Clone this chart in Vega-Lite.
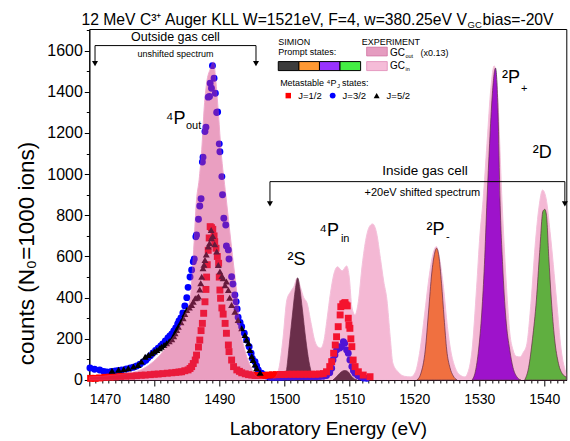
{
"$schema": "https://vega.github.io/schema/vega-lite/v6.json",
"width": 477, "height": 351,
"autosize": {"type": "none"},
"padding": {"left": 89.3, "top": 29, "right": 4, "bottom": 61},
"background": "white",
"config": {"font": "Liberation Sans", "view": {"stroke": "black", "strokeWidth": 1},
  "axis": {"domainColor": "black", "tickColor": "black", "labelColor": "black", "titleColor": "black", "grid": false, "titleFontWeight": "normal", "labelFont": "Liberation Sans", "titleFont": "Liberation Sans"}},
"datasets": {
"gcout": [{"E":1470,"c":15},{"E":1472,"c":18},{"E":1474,"c":24},{"E":1476,"c":33},{"E":1478,"c":50},{"E":1479.5,"c":80},{"E":1481,"c":125},{"E":1482.5,"c":190},{"E":1483.7,"c":245},{"E":1484.6,"c":310},{"E":1485.5,"c":390},{"E":1486,"c":600},{"E":1486.5,"c":875},{"E":1486.9,"c":972},{"E":1487.3,"c":1118},{"E":1487.7,"c":1330},{"E":1488.06,"c":1443},{"E":1488.6,"c":1510},{"E":1489.1,"c":1545},{"E":1489.5,"c":1443},{"E":1489.9,"c":1280},{"E":1490.26,"c":1118},{"E":1491.0,"c":900},{"E":1491.9,"c":640},{"E":1492.8,"c":389},{"E":1493.2,"c":250},{"E":1493.8,"c":160},{"E":1494.4,"c":97},{"E":1495,"c":55},{"E":1495.5,"c":24},{"E":1496.3,"c":8},{"E":1497.3,"c":0}],
"gcin": [{"E":1497.5,"c":0},{"E":1498.5,"c":10},{"E":1499.2,"c":60},{"E":1499.8,"c":200},{"E":1500.4,"c":389},{"E":1501,"c":430},{"E":1501.5,"c":455},{"E":1502,"c":496},{"E":1502.5,"c":450},{"E":1503,"c":400},{"E":1503.5,"c":374},{"E":1504.1,"c":280},{"E":1504.7,"c":190},{"E":1505.2,"c":160},{"E":1505.6,"c":155},{"E":1506.1,"c":190},{"E":1506.6,"c":300},{"E":1507.1,"c":420},{"E":1507.6,"c":510},{"E":1508.2,"c":550},{"E":1508.9,"c":530},{"E":1509.6,"c":554},{"E":1510,"c":500},{"E":1510.4,"c":355},{"E":1510.9,"c":316},{"E":1511.4,"c":380},{"E":1512,"c":560},{"E":1512.6,"c":690},{"E":1513.1,"c":745},{"E":1513.6,"c":758},{"E":1514.2,"c":715},{"E":1514.8,"c":590},{"E":1515.3,"c":480},{"E":1515.8,"c":389},{"E":1516.3,"c":210},{"E":1516.7,"c":83},{"E":1517.5,"c":40},{"E":1518.5,"c":18},{"E":1519.5,"c":15},{"E":1520.2,"c":40},{"E":1520.9,"c":146},{"E":1521.6,"c":320},{"E":1522.2,"c":480},{"E":1522.8,"c":600},{"E":1523.4,"c":648},{"E":1523.9,"c":590},{"E":1524.5,"c":450},{"E":1525.1,"c":260},{"E":1525.6,"c":146},{"E":1526.3,"c":60},{"E":1527,"c":25},{"E":1527.8,"c":15},{"E":1528.3,"c":40},{"E":1528.9,"c":146},{"E":1529.6,"c":450},{"E":1530.1,"c":700},{"E":1530.6,"c":875},{"E":1531.2,"c":1150},{"E":1531.8,"c":1420},{"E":1532.3,"c":1526},{"E":1532.8,"c":1400},{"E":1533.5,"c":875},{"E":1534.2,"c":450},{"E":1534.7,"c":230},{"E":1535.2,"c":146},{"E":1535.7,"c":115},{"E":1536.3,"c":112},{"E":1536.8,"c":135},{"E":1537.3,"c":170},{"E":1538,"c":389},{"E":1538.6,"c":650},{"E":1539.2,"c":840},{"E":1539.75,"c":923},{"E":1540.3,"c":880},{"E":1540.9,"c":720},{"E":1541.9,"c":389},{"E":1542.6,"c":150},{"E":1543.4,"c":30}],
"simion": [
{"E":1499.8,"c":0,"s":"2S"},{"E":1500.3,"c":40,"s":"2S"},{"E":1500.8,"c":180,"s":"2S"},{"E":1501.3,"c":330,"s":"2S"},{"E":1501.7,"c":440,"s":"2S"},{"E":1502.06,"c":496,"s":"2S"},{"E":1502.4,"c":445,"s":"2S"},{"E":1502.8,"c":340,"s":"2S"},{"E":1503.3,"c":200,"s":"2S"},{"E":1503.8,"c":90,"s":"2S"},{"E":1504.3,"c":25,"s":"2S"},{"E":1504.8,"c":0,"s":"2S"},
{"E":1507.5,"c":0,"s":"4P"},{"E":1508,"c":15,"s":"4P"},{"E":1508.5,"c":32,"s":"4P"},{"E":1509,"c":44,"s":"4P"},{"E":1509.4,"c":46,"s":"4P"},{"E":1509.9,"c":38,"s":"4P"},{"E":1510.3,"c":20,"s":"4P"},{"E":1510.8,"c":5,"s":"4P"},{"E":1511.2,"c":0,"s":"4P"},
{"E":1520.4,"c":0,"s":"2P-"},{"E":1521,"c":30,"s":"2P-"},{"E":1521.7,"c":146,"s":"2P-"},{"E":1522.2,"c":330,"s":"2P-"},{"E":1522.7,"c":520,"s":"2P-"},{"E":1523.1,"c":610,"s":"2P-"},{"E":1523.45,"c":640,"s":"2P-"},{"E":1523.8,"c":600,"s":"2P-"},{"E":1524.2,"c":470,"s":"2P-"},{"E":1524.6,"c":300,"s":"2P-"},{"E":1525,"c":146,"s":"2P-"},{"E":1525.5,"c":60,"s":"2P-"},{"E":1526,"c":20,"s":"2P-"},{"E":1526.6,"c":0,"s":"2P-"},
{"E":1528.9,"c":0,"s":"2P+"},{"E":1529.4,"c":40,"s":"2P+"},{"E":1529.9,"c":146,"s":"2P+"},{"E":1530.4,"c":330,"s":"2P+"},{"E":1530.8,"c":560,"s":"2P+"},{"E":1531.2,"c":875,"s":"2P+"},{"E":1531.6,"c":1150,"s":"2P+"},{"E":1532,"c":1380,"s":"2P+"},{"E":1532.5,"c":1515,"s":"2P+"},{"E":1532.9,"c":1300,"s":"2P+"},{"E":1533.2,"c":875,"s":"2P+"},{"E":1533.6,"c":560,"s":"2P+"},{"E":1534.1,"c":300,"s":"2P+"},{"E":1534.7,"c":146,"s":"2P+"},{"E":1535.2,"c":60,"s":"2P+"},{"E":1535.8,"c":15,"s":"2P+"},{"E":1536.4,"c":0,"s":"2P+"},
{"E":1537,"c":0,"s":"2D"},{"E":1537.6,"c":60,"s":"2D"},{"E":1538.2,"c":200,"s":"2D"},{"E":1538.8,"c":389,"s":"2D"},{"E":1539.3,"c":620,"s":"2D"},{"E":1539.8,"c":820,"s":"2D"},{"E":1540.1,"c":829,"s":"2D"},{"E":1540.35,"c":800,"s":"2D"},{"E":1540.7,"c":600,"s":"2D"},{"E":1541.1,"c":389,"s":"2D"},{"E":1541.6,"c":200,"s":"2D"},{"E":1542.2,"c":80,"s":"2D"},{"E":1542.8,"c":30,"s":"2D"},{"E":1543.4,"c":15,"s":"2D"}],
"points": [
{"E":1470.1,"c":58,"J":"J=3/2"},{"E":1470.8,"c":52,"J":"J=3/2"},{"E":1471.6,"c":49,"J":"J=3/2"},{"E":1472.2,"c":42,"J":"J=3/2"},{"E":1472.7,"c":39,"J":"J=3/2"},{"E":1473.4,"c":41,"J":"J=3/2"},{"E":1474,"c":44,"J":"J=3/2"},{"E":1474.5,"c":46,"J":"J=3/2"},{"E":1475,"c":49,"J":"J=3/2"},{"E":1475.7,"c":53,"J":"J=3/2"},{"E":1476.3,"c":58,"J":"J=3/2"},{"E":1476.8,"c":62,"J":"J=3/2"},{"E":1477.3,"c":68,"J":"J=3/2"},{"E":1477.8,"c":77,"J":"J=3/2"},{"E":1478.3,"c":87,"J":"J=3/2"},{"E":1478.7,"c":96,"J":"J=3/2"},{"E":1479,"c":107,"J":"J=3/2"},{"E":1479.4,"c":118,"J":"J=3/2"},{"E":1479.8,"c":131,"J":"J=3/2"},{"E":1480.2,"c":143,"J":"J=3/2"},{"E":1480.6,"c":155,"J":"J=3/2"},{"E":1481,"c":165,"J":"J=3/2"},{"E":1481.3,"c":175,"J":"J=3/2"},{"E":1481.7,"c":190,"J":"J=3/2"},{"E":1482.1,"c":204,"J":"J=3/2"},{"E":1482.4,"c":214,"J":"J=3/2"},{"E":1482.7,"c":224,"J":"J=3/2"},{"E":1483,"c":238,"J":"J=3/2"},{"E":1483.3,"c":253,"J":"J=3/2"},{"E":1483.6,"c":272,"J":"J=3/2"},{"E":1483.8,"c":287,"J":"J=3/2"},{"E":1484.1,"c":301,"J":"J=3/2"},{"E":1484.4,"c":326,"J":"J=3/2"},{"E":1484.7,"c":360,"J":"J=3/2"},{"E":1485,"c":400,"J":"J=3/2"},{"E":1485.2,"c":450,"J":"J=3/2"},{"E":1485.5,"c":500,"J":"J=3/2"},{"E":1485.75,"c":534,"J":"J=3/2"},{"E":1486,"c":575,"J":"J=3/2"},{"E":1486.15,"c":588,"J":"J=3/2"},{"E":1486.4,"c":696,"J":"J=3/2"},{"E":1486.5,"c":704,"J":"J=3/2"},{"E":1486.8,"c":781,"J":"J=3/2"},{"E":1487,"c":845,"J":"J=3/2"},{"E":1487.2,"c":880,"J":"J=3/2"},{"E":1487.4,"c":1059,"J":"J=3/2"},{"E":1487.5,"c":1082,"J":"J=3/2"},{"E":1487.8,"c":1207,"J":"J=3/2"},{"E":1487.95,"c":1228,"J":"J=3/2"},{"E":1488.3,"c":1374,"J":"J=3/2"},{"E":1488.5,"c":1377,"J":"J=3/2"},{"E":1488.6,"c":1442,"J":"J=3/2"},{"E":1488.8,"c":1417,"J":"J=3/2"},{"E":1488.95,"c":1527,"J":"J=3/2"},{"E":1489.2,"c":1466,"J":"J=3/2"},{"E":1489.4,"c":1393,"J":"J=3/2"},{"E":1489.6,"c":1299,"J":"J=3/2"},{"E":1489.75,"c":1302,"J":"J=3/2"},{"E":1490,"c":1147,"J":"J=3/2"},{"E":1490.1,"c":1109,"J":"J=3/2"},{"E":1490.4,"c":988,"J":"J=3/2"},{"E":1490.5,"c":900,"J":"J=3/2"},{"E":1490.7,"c":786,"J":"J=3/2"},{"E":1491,"c":753,"J":"J=3/2"},{"E":1491.1,"c":651,"J":"J=3/2"},{"E":1491.4,"c":632,"J":"J=3/2"},{"E":1491.5,"c":588,"J":"J=3/2"},{"E":1491.9,"c":502,"J":"J=3/2"},{"E":1492.1,"c":466,"J":"J=3/2"},{"E":1492.4,"c":413,"J":"J=3/2"},{"E":1492.6,"c":380,"J":"J=3/2"},{"E":1492.75,"c":345,"J":"J=3/2"},{"E":1492.9,"c":305,"J":"J=3/2"},{"E":1493.2,"c":280,"J":"J=3/2"},{"E":1493.45,"c":259,"J":"J=3/2"},{"E":1493.85,"c":227,"J":"J=3/2"},{"E":1494.2,"c":194,"J":"J=3/2"},{"E":1494.6,"c":162,"J":"J=3/2"},{"E":1494.9,"c":130,"J":"J=3/2"},{"E":1495.1,"c":105,"J":"J=3/2"},{"E":1495.5,"c":89,"J":"J=3/2"},{"E":1495.75,"c":68,"J":"J=3/2"},{"E":1496,"c":49,"J":"J=3/2"},{"E":1496.5,"c":33,"J":"J=3/2"},{"E":1496.9,"c":25,"J":"J=3/2"},{"E":1497.3,"c":19,"J":"J=3/2"},{"E":1497.7,"c":15,"J":"J=3/2"},{"E":1498.05,"c":13,"J":"J=3/2"},{"E":1498.4,"c":13,"J":"J=3/2"},{"E":1498.8,"c":13,"J":"J=3/2"},{"E":1499.2,"c":13,"J":"J=3/2"},{"E":1499.6,"c":13,"J":"J=3/2"},{"E":1500,"c":14,"J":"J=3/2"},{"E":1500.5,"c":15,"J":"J=3/2"},{"E":1501,"c":15,"J":"J=3/2"},{"E":1501.5,"c":15,"J":"J=3/2"},{"E":1502,"c":16,"J":"J=3/2"},{"E":1502.5,"c":16,"J":"J=3/2"},{"E":1503,"c":16,"J":"J=3/2"},{"E":1503.5,"c":16,"J":"J=3/2"},{"E":1504,"c":16,"J":"J=3/2"},{"E":1504.5,"c":16,"J":"J=3/2"},{"E":1505,"c":16,"J":"J=3/2"},{"E":1505.5,"c":17,"J":"J=3/2"},{"E":1506,"c":18,"J":"J=3/2"},{"E":1506.5,"c":22,"J":"J=3/2"},{"E":1507,"c":35,"J":"J=3/2"},{"E":1507.3,"c":57,"J":"J=3/2"},{"E":1507.5,"c":97,"J":"J=3/2"},{"E":1507.8,"c":121,"J":"J=3/2"},{"E":1508.05,"c":146,"J":"J=3/2"},{"E":1508.3,"c":162,"J":"J=3/2"},{"E":1508.55,"c":155,"J":"J=3/2"},{"E":1508.8,"c":162,"J":"J=3/2"},{"E":1509.1,"c":186,"J":"J=3/2"},{"E":1509.3,"c":178,"J":"J=3/2"},{"E":1509.6,"c":146,"J":"J=3/2"},{"E":1509.85,"c":130,"J":"J=3/2"},{"E":1510.1,"c":97,"J":"J=3/2"},{"E":1510.4,"c":65,"J":"J=3/2"},{"E":1510.65,"c":45,"J":"J=3/2"},{"E":1510.9,"c":33,"J":"J=3/2"},{"E":1511.3,"c":22,"J":"J=3/2"},{"E":1511.65,"c":16,"J":"J=3/2"},{"E":1512.2,"c":10,"J":"J=3/2"},{"E":1512.7,"c":8,"J":"J=3/2"},
{"E":1470.2,"c":8,"J":"J=1/2"},{"E":1470.9,"c":8,"J":"J=1/2"},{"E":1471.6,"c":10,"J":"J=1/2"},{"E":1472.4,"c":13,"J":"J=1/2"},{"E":1473.2,"c":14,"J":"J=1/2"},{"E":1474,"c":15,"J":"J=1/2"},{"E":1474.8,"c":17,"J":"J=1/2"},{"E":1475.6,"c":18,"J":"J=1/2"},{"E":1476.5,"c":19,"J":"J=1/2"},{"E":1477.3,"c":21,"J":"J=1/2"},{"E":1478,"c":23,"J":"J=1/2"},{"E":1478.6,"c":24,"J":"J=1/2"},{"E":1479.4,"c":26,"J":"J=1/2"},{"E":1480,"c":28,"J":"J=1/2"},{"E":1480.6,"c":29,"J":"J=1/2"},{"E":1481.3,"c":31,"J":"J=1/2"},{"E":1482,"c":33,"J":"J=1/2"},{"E":1482.7,"c":35,"J":"J=1/2"},{"E":1483.3,"c":37,"J":"J=1/2"},{"E":1483.8,"c":39,"J":"J=1/2"},{"E":1484.2,"c":40,"J":"J=1/2"},{"E":1484.7,"c":45,"J":"J=1/2"},{"E":1485.2,"c":49,"J":"J=1/2"},{"E":1485.5,"c":56,"J":"J=1/2"},{"E":1485.75,"c":65,"J":"J=1/2"},{"E":1486,"c":80,"J":"J=1/2"},{"E":1486.3,"c":97,"J":"J=1/2"},{"E":1486.5,"c":121,"J":"J=1/2"},{"E":1486.8,"c":160,"J":"J=1/2"},{"E":1487,"c":194,"J":"J=1/2"},{"E":1487.2,"c":240,"J":"J=1/2"},{"E":1487.4,"c":275,"J":"J=1/2"},{"E":1487.6,"c":324,"J":"J=1/2"},{"E":1487.8,"c":380,"J":"J=1/2"},{"E":1487.95,"c":440,"J":"J=1/2"},{"E":1488.05,"c":500,"J":"J=1/2"},{"E":1488.15,"c":560,"J":"J=1/2"},{"E":1488.3,"c":630,"J":"J=1/2"},{"E":1488.45,"c":690,"J":"J=1/2"},{"E":1488.6,"c":745,"J":"J=1/2"},{"E":1488.8,"c":740,"J":"J=1/2"},{"E":1489,"c":732,"J":"J=1/2"},{"E":1489.2,"c":700,"J":"J=1/2"},{"E":1489.3,"c":672,"J":"J=1/2"},{"E":1489.5,"c":640,"J":"J=1/2"},{"E":1489.7,"c":600,"J":"J=1/2"},{"E":1489.9,"c":567,"J":"J=1/2"},{"E":1490,"c":500,"J":"J=1/2"},{"E":1490.1,"c":437,"J":"J=1/2"},{"E":1490.2,"c":397,"J":"J=1/2"},{"E":1490.4,"c":350,"J":"J=1/2"},{"E":1490.6,"c":320,"J":"J=1/2"},{"E":1490.9,"c":275,"J":"J=1/2"},{"E":1491.1,"c":227,"J":"J=1/2"},{"E":1491.4,"c":170,"J":"J=1/2"},{"E":1491.5,"c":138,"J":"J=1/2"},{"E":1491.9,"c":97,"J":"J=1/2"},{"E":1492.2,"c":65,"J":"J=1/2"},{"E":1492.7,"c":49,"J":"J=1/2"},{"E":1493.1,"c":42,"J":"J=1/2"},{"E":1493.45,"c":35,"J":"J=1/2"},{"E":1494,"c":30,"J":"J=1/2"},{"E":1494.5,"c":26,"J":"J=1/2"},{"E":1495,"c":24,"J":"J=1/2"},{"E":1495.5,"c":22,"J":"J=1/2"},{"E":1496,"c":22,"J":"J=1/2"},{"E":1496.5,"c":22,"J":"J=1/2"},{"E":1497,"c":22,"J":"J=1/2"},{"E":1497.6,"c":24,"J":"J=1/2"},{"E":1498.2,"c":25,"J":"J=1/2"},{"E":1498.8,"c":26,"J":"J=1/2"},{"E":1499.4,"c":27,"J":"J=1/2"},{"E":1500,"c":27,"J":"J=1/2"},{"E":1500.6,"c":28,"J":"J=1/2"},{"E":1501.2,"c":28,"J":"J=1/2"},{"E":1501.8,"c":28,"J":"J=1/2"},{"E":1502.4,"c":28,"J":"J=1/2"},{"E":1503,"c":28,"J":"J=1/2"},{"E":1503.6,"c":28,"J":"J=1/2"},{"E":1504.2,"c":28,"J":"J=1/2"},{"E":1504.8,"c":28,"J":"J=1/2"},{"E":1505.4,"c":29,"J":"J=1/2"},{"E":1506,"c":31,"J":"J=1/2"},{"E":1506.5,"c":40,"J":"J=1/2"},{"E":1507,"c":65,"J":"J=1/2"},{"E":1507.3,"c":89,"J":"J=1/2"},{"E":1507.6,"c":130,"J":"J=1/2"},{"E":1507.85,"c":170,"J":"J=1/2"},{"E":1508.05,"c":210,"J":"J=1/2"},{"E":1508.3,"c":259,"J":"J=1/2"},{"E":1508.6,"c":316,"J":"J=1/2"},{"E":1508.7,"c":356,"J":"J=1/2"},{"E":1509,"c":369,"J":"J=1/2"},{"E":1509.2,"c":372,"J":"J=1/2"},{"E":1509.35,"c":376,"J":"J=1/2"},{"E":1509.5,"c":365,"J":"J=1/2"},{"E":1509.7,"c":360,"J":"J=1/2"},{"E":1509.85,"c":300,"J":"J=1/2"},{"E":1509.95,"c":267,"J":"J=1/2"},{"E":1510.1,"c":251,"J":"J=1/2"},{"E":1510.25,"c":200,"J":"J=1/2"},{"E":1510.4,"c":162,"J":"J=1/2"},{"E":1510.6,"c":97,"J":"J=1/2"},{"E":1510.9,"c":65,"J":"J=1/2"},{"E":1511.4,"c":40,"J":"J=1/2"},{"E":1512.15,"c":24,"J":"J=1/2"},{"E":1513.2,"c":16,"J":"J=1/2"},
{"E":1473.5,"c":45,"J":"J=5/2"},{"E":1474.5,"c":50,"J":"J=5/2"},{"E":1475.3,"c":52,"J":"J=5/2"},{"E":1476,"c":57,"J":"J=5/2"},{"E":1476.8,"c":65,"J":"J=5/2"},{"E":1477.5,"c":73,"J":"J=5/2"},{"E":1478,"c":90,"J":"J=5/2"},{"E":1478.6,"c":113,"J":"J=5/2"},{"E":1479.1,"c":122,"J":"J=5/2"},{"E":1479.6,"c":130,"J":"J=5/2"},{"E":1480,"c":138,"J":"J=5/2"},{"E":1480.4,"c":146,"J":"J=5/2"},{"E":1480.8,"c":154,"J":"J=5/2"},{"E":1481.1,"c":162,"J":"J=5/2"},{"E":1481.5,"c":170,"J":"J=5/2"},{"E":1481.9,"c":178,"J":"J=5/2"},{"E":1482.3,"c":188,"J":"J=5/2"},{"E":1482.7,"c":198,"J":"J=5/2"},{"E":1483,"c":212,"J":"J=5/2"},{"E":1483.2,"c":227,"J":"J=5/2"},{"E":1483.45,"c":243,"J":"J=5/2"},{"E":1483.7,"c":259,"J":"J=5/2"},{"E":1484.1,"c":280,"J":"J=5/2"},{"E":1484.45,"c":300,"J":"J=5/2"},{"E":1484.7,"c":320,"J":"J=5/2"},{"E":1485,"c":340,"J":"J=5/2"},{"E":1485.4,"c":352,"J":"J=5/2"},{"E":1485.75,"c":364,"J":"J=5/2"},{"E":1486,"c":380,"J":"J=5/2"},{"E":1486.3,"c":397,"J":"J=5/2"},{"E":1486.6,"c":400,"J":"J=5/2"},{"E":1486.8,"c":405,"J":"J=5/2"},{"E":1487,"c":440,"J":"J=5/2"},{"E":1487.15,"c":470,"J":"J=5/2"},{"E":1487.3,"c":502,"J":"J=5/2"},{"E":1487.5,"c":543,"J":"J=5/2"},{"E":1487.65,"c":560,"J":"J=5/2"},{"E":1487.8,"c":583,"J":"J=5/2"},{"E":1488,"c":610,"J":"J=5/2"},{"E":1488.3,"c":648,"J":"J=5/2"},{"E":1488.5,"c":664,"J":"J=5/2"},{"E":1488.75,"c":729,"J":"J=5/2"},{"E":1488.8,"c":689,"J":"J=5/2"},{"E":1489,"c":700,"J":"J=5/2"},{"E":1489.3,"c":660,"J":"J=5/2"},{"E":1489.6,"c":624,"J":"J=5/2"},{"E":1489.85,"c":559,"J":"J=5/2"},{"E":1490.1,"c":527,"J":"J=5/2"},{"E":1490.4,"c":505,"J":"J=5/2"},{"E":1490.6,"c":494,"J":"J=5/2"},{"E":1490.9,"c":460,"J":"J=5/2"},{"E":1491.1,"c":478,"J":"J=5/2"},{"E":1491.4,"c":437,"J":"J=5/2"},{"E":1491.6,"c":400,"J":"J=5/2"},{"E":1491.9,"c":364,"J":"J=5/2"},{"E":1492.4,"c":332,"J":"J=5/2"},{"E":1492.9,"c":292,"J":"J=5/2"},{"E":1493.45,"c":251,"J":"J=5/2"},{"E":1493.95,"c":219,"J":"J=5/2"},{"E":1494.2,"c":195,"J":"J=5/2"},{"E":1494.5,"c":178,"J":"J=5/2"},{"E":1494.7,"c":146,"J":"J=5/2"},{"E":1495,"c":115,"J":"J=5/2"},{"E":1495.2,"c":97,"J":"J=5/2"},{"E":1495.5,"c":75,"J":"J=5/2"},{"E":1495.75,"c":57,"J":"J=5/2"},{"E":1496.3,"c":35,"J":"J=5/2"}]
},
"layer": [
{"data": {"values": [{}]},
 "resolve": {"scale": {"color": "independent", "shape": "independent"}},
 "layer": [
 {"data": {"name": "simion"}, "mark": {"type": "area", "interpolate": "monotone", "stroke": "#222222", "strokeWidth": 0.7},
  "encoding": {"x": {"field": "E", "type": "quantitative", "scale": {"domain": [1470, 1543.4], "nice": false, "zero": false}, "axis": {"values": [1470,1480,1490,1500,1510,1520,1530,1540], "format": "d", "labelFontSize": 14, "tickSize": 6, "labelPadding": 7, "title": "Laboratory Energy (eV)", "titleFontSize": 19, "titleX": 238.5, "titleY": 55, "titleBaseline": "alphabetic", "titleAlign": "center", "orient": "bottom"}},
   "y": {"field": "c", "type": "quantitative", "stack": null, "scale": {"domain": [0, 1705], "nice": false, "zero": false}, "axis": {"values": [0,200,400,600,800,1000,1200,1400,1600], "format": "d", "labelFontSize": 16, "tickSize": 5, "labelPadding": 2, "title": "counts (N₀=1000 ions)", "titleFontSize": 22.5, "titleAngle": -90, "titleX": -63, "titleY": 224, "titleAlign": "center", "titleBaseline": "middle", "orient": "left"}},
   "color": {"field": "s", "type": "nominal", "scale": {"domain": ["2S","4P","2P-","2P+","2D"], "range": ["#2a2a2a","#2a2a2a","#f88f1a","#7a00f0","#1af11a"]}, "legend": null}}},
 {"data": {"name": "points"}, "mark": {"type": "point", "filled": true, "opacity": 1, "size": 48},
  "encoding": {"x": {"field": "E", "type": "quantitative"}, "y": {"field": "c", "type": "quantitative"},
   "color": {"field": "J", "type": "nominal", "scale": {"domain": ["J=1/2","J=3/2","J=5/2"], "range": ["#ff0000","#0000ff","#000000"]}, "legend": null},
   "shape": {"field": "J", "type": "nominal", "scale": {"domain": ["J=1/2","J=3/2","J=5/2"], "range": ["square","circle","triangle-up"]}, "legend": null}}},
 {"data": {"name": "gcout"}, "mark": {"type": "area", "interpolate": "monotone", "color": "#d4387e", "opacity": 0.48, "stroke": "#e0509a", "strokeWidth": 1},
  "encoding": {"x": {"field": "E", "type": "quantitative"}, "y": {"field": "c", "type": "quantitative"}}},
 {"data": {"name": "gcin"}, "mark": {"type": "area", "interpolate": "monotone", "color": "#e23787", "opacity": 0.35, "stroke": "#e0509a", "strokeWidth": 1},
  "encoding": {"x": {"field": "E", "type": "quantitative"}, "y": {"field": "c", "type": "quantitative"}}},

 {"mark": {"type": "rule", "color": "black", "strokeWidth": 1}, "encoding": {"x": {"datum": 1470.88}, "x2": {"datum": 1495.65}, "y": {"datum": 1624.4}}},
 {"mark": {"type": "rule", "color": "black", "strokeWidth": 1}, "encoding": {"x": {"datum": 1470.88}, "y": {"datum": 1624.4}, "y2": {"datum": 1545}}},
 {"mark": {"type": "rule", "color": "black", "strokeWidth": 1}, "encoding": {"x": {"datum": 1495.65}, "y": {"datum": 1624.4}, "y2": {"datum": 1545}}},
 {"mark": {"type": "point", "shape": "triangle-down", "filled": true, "color": "black", "size": 36, "opacity": 1}, "encoding": {"x": {"datum": 1470.88}, "y": {"datum": 1537}}},
 {"mark": {"type": "point", "shape": "triangle-down", "filled": true, "color": "black", "size": 36, "opacity": 1}, "encoding": {"x": {"datum": 1495.65}, "y": {"datum": 1537}}},
 {"mark": {"type": "rule", "color": "black", "strokeWidth": 1}, "encoding": {"x": {"datum": 1497.8}, "x2": {"datum": 1543.18}, "y": {"datum": 963.6}}},
 {"mark": {"type": "rule", "color": "black", "strokeWidth": 1}, "encoding": {"x": {"datum": 1497.8}, "y": {"datum": 963.6}, "y2": {"datum": 865}}},
 {"mark": {"type": "rule", "color": "black", "strokeWidth": 1}, "encoding": {"x": {"datum": 1543.18}, "y": {"datum": 963.6}, "y2": {"datum": 865}}},
 {"mark": {"type": "point", "shape": "triangle-down", "filled": true, "color": "black", "size": 36, "opacity": 1}, "encoding": {"x": {"datum": 1497.8}, "y": {"datum": 856}}},
 {"mark": {"type": "point", "shape": "triangle-down", "filled": true, "color": "black", "size": 36, "opacity": 1}, "encoding": {"x": {"datum": 1543.18}, "y": {"datum": 856}}},

 {"mark": {"type": "text", "text": "Outside gas cell", "fontSize": 12.5, "align": "center", "baseline": "alphabetic", "color": "black"}, "encoding": {"x": {"datum": 1483.26}, "y": {"datum": 1644.8}}},
 {"mark": {"type": "text", "text": "unshifted spectrum", "fontSize": 9, "align": "center", "baseline": "alphabetic", "color": "black"}, "encoding": {"x": {"datum": 1483.26}, "y": {"datum": 1569.5}}},
 {"mark": {"type": "text", "text": "Inside gas cell", "fontSize": 13.5, "align": "center", "baseline": "alphabetic", "color": "black"}, "encoding": {"x": {"datum": 1521.65}, "y": {"datum": 996.1}}},
 {"mark": {"type": "text", "text": "+20eV shifted spectrum", "fontSize": 11, "align": "center", "baseline": "alphabetic", "color": "black"}, "encoding": {"x": {"datum": 1521.26}, "y": {"datum": 894.1}}},

 {"mark": {"type": "text", "text": "⁴P", "fontSize": 18, "align": "right", "baseline": "alphabetic", "color": "black"}, "encoding": {"x": {"datum": 1484.8}, "y": {"datum": 1243.9}}},
 {"mark": {"type": "text", "text": "out", "fontSize": 11, "align": "left", "baseline": "alphabetic", "color": "black"}, "encoding": {"x": {"datum": 1484.88}, "y": {"datum": 1219.6}}},
 {"mark": {"type": "text", "text": "²S", "fontSize": 18, "align": "right", "baseline": "alphabetic", "color": "black"}, "encoding": {"x": {"datum": 1503.26}, "y": {"datum": 558.8}}},
 {"mark": {"type": "text", "text": "⁴P", "fontSize": 18, "align": "right", "baseline": "alphabetic", "color": "black"}, "encoding": {"x": {"datum": 1508.42}, "y": {"datum": 699.7}}},
 {"mark": {"type": "text", "text": "in", "fontSize": 11, "align": "left", "baseline": "alphabetic", "color": "black"}, "encoding": {"x": {"datum": 1508.72}, "y": {"datum": 672}}},
 {"mark": {"type": "text", "text": "²P", "fontSize": 18, "align": "right", "baseline": "alphabetic", "color": "black"}, "encoding": {"x": {"datum": 1524.65}, "y": {"datum": 704.6}}},
 {"mark": {"type": "text", "text": "-", "fontSize": 11, "align": "left", "baseline": "alphabetic", "color": "black"}, "encoding": {"x": {"datum": 1524.88}, "y": {"datum": 680.3}}},
 {"mark": {"type": "text", "text": "²P", "fontSize": 18, "align": "right", "baseline": "alphabetic", "color": "black"}, "encoding": {"x": {"datum": 1536.26}, "y": {"datum": 1441.7}}},
 {"mark": {"type": "text", "text": "+", "fontSize": 11, "align": "left", "baseline": "alphabetic", "color": "black"}, "encoding": {"x": {"datum": 1536.42}, "y": {"datum": 1399.4}}},
 {"mark": {"type": "text", "text": "²D", "fontSize": 18, "align": "right", "baseline": "alphabetic", "color": "black"}, "encoding": {"x": {"datum": 1541.15}, "y": {"datum": 1077.3}}},

 {"mark": {"type": "text", "text": "SIMION", "fontSize": 9, "align": "left", "baseline": "alphabetic", "color": "black"}, "encoding": {"x": {"datum": 1499.08}, "y": {"datum": 1627.8}}},
 {"mark": {"type": "text", "text": "Prompt states:", "fontSize": 9, "align": "left", "baseline": "alphabetic", "color": "black"}, "encoding": {"x": {"datum": 1499.08}, "y": {"datum": 1579}}},
 {"mark": {"type": "rect", "fill": "#3c3c3c", "stroke": "black", "strokeWidth": 1}, "encoding": {"x": {"datum": 1499.08}, "x2": {"datum": 1502.25}, "y": {"datum": 1503}, "y2": {"datum": 1546.7}}},
 {"mark": {"type": "rect", "fill": "#ff9933", "stroke": "black", "strokeWidth": 1}, "encoding": {"x": {"datum": 1502.25}, "x2": {"datum": 1505.42}, "y": {"datum": 1503}, "y2": {"datum": 1546.7}}},
 {"mark": {"type": "rect", "fill": "#9933ff", "stroke": "black", "strokeWidth": 1}, "encoding": {"x": {"datum": 1505.42}, "x2": {"datum": 1508.58}, "y": {"datum": 1503}, "y2": {"datum": 1546.7}}},
 {"mark": {"type": "rect", "fill": "#44ee44", "stroke": "black", "strokeWidth": 1}, "encoding": {"x": {"datum": 1508.58}, "x2": {"datum": 1511.75}, "y": {"datum": 1503}, "y2": {"datum": 1546.7}}},
 {"mark": {"type": "text", "text": "EXPERIMENT", "fontSize": 9, "align": "left", "baseline": "alphabetic", "color": "black"}, "encoding": {"x": {"datum": 1511.91}, "y": {"datum": 1627.8}}},
 {"mark": {"type": "rect", "fill": "#e59cc0", "stroke": "#d070a0", "strokeWidth": 0.8}, "encoding": {"x": {"datum": 1512.68}, "x2": {"datum": 1515.85}, "y": {"datum": 1574.3}, "y2": {"datum": 1616.6}}},
 {"mark": {"type": "rect", "fill": "#f5bcd8", "stroke": "#e08ab8", "strokeWidth": 0.8}, "encoding": {"x": {"datum": 1512.68}, "x2": {"datum": 1515.85}, "y": {"datum": 1503}, "y2": {"datum": 1546.7}}},
 {"mark": {"type": "text", "text": "GC", "fontSize": 10, "align": "left", "baseline": "alphabetic", "color": "black"}, "encoding": {"x": {"datum": 1516.26}, "y": {"datum": 1574.3}}},
 {"mark": {"type": "text", "text": "out", "fontSize": 5.5, "align": "left", "baseline": "alphabetic", "color": "black"}, "encoding": {"x": {"datum": 1518.65}, "y": {"datum": 1562}}},
 {"mark": {"type": "text", "text": "(x0.13)", "fontSize": 9, "align": "left", "baseline": "alphabetic", "color": "black"}, "encoding": {"x": {"datum": 1520.98}, "y": {"datum": 1574.3}}},
 {"mark": {"type": "text", "text": "GC", "fontSize": 10, "align": "left", "baseline": "alphabetic", "color": "black"}, "encoding": {"x": {"datum": 1516.26}, "y": {"datum": 1508.7}}},
 {"mark": {"type": "text", "text": "in", "fontSize": 5.5, "align": "left", "baseline": "alphabetic", "color": "black"}, "encoding": {"x": {"datum": 1518.65}, "y": {"datum": 1499}}},
 {"mark": {"type": "text", "text": "Metastable ⁴P", "fontSize": 9, "align": "right", "baseline": "alphabetic", "color": "black"}, "encoding": {"x": {"datum": 1508.03}, "y": {"datum": 1428.6}}},
 {"mark": {"type": "text", "text": "J", "fontSize": 6, "align": "left", "baseline": "alphabetic", "color": "black"}, "encoding": {"x": {"datum": 1508.11}, "y": {"datum": 1416}}},
 {"mark": {"type": "text", "text": "states:", "fontSize": 9, "align": "left", "baseline": "alphabetic", "color": "black"}, "encoding": {"x": {"datum": 1508.88}, "y": {"datum": 1428.6}}},
 {"mark": {"type": "point", "shape": "square", "filled": true, "color": "#ff0000", "size": 30, "opacity": 1}, "encoding": {"x": {"datum": 1500.62}, "y": {"datum": 1381.4}}},
 {"mark": {"type": "point", "shape": "circle", "filled": true, "color": "#0000ff", "size": 34, "opacity": 1}, "encoding": {"x": {"datum": 1507.45}, "y": {"datum": 1381.4}}},
 {"mark": {"type": "point", "shape": "triangle-up", "filled": true, "color": "#000000", "size": 36, "opacity": 1}, "encoding": {"x": {"datum": 1514.22}, "y": {"datum": 1381.4}}},
 {"mark": {"type": "text", "text": "J=1/2", "fontSize": 9.5, "align": "left", "baseline": "alphabetic", "color": "black"}, "encoding": {"x": {"datum": 1502.15}, "y": {"datum": 1365.4}}},
 {"mark": {"type": "text", "text": "J=3/2", "fontSize": 9.5, "align": "left", "baseline": "alphabetic", "color": "black"}, "encoding": {"x": {"datum": 1508.98}, "y": {"datum": 1365.4}}},
 {"mark": {"type": "text", "text": "J=5/2", "fontSize": 9.5, "align": "left", "baseline": "alphabetic", "color": "black"}, "encoding": {"x": {"datum": 1515.75}, "y": {"datum": 1365.4}}},

 {"mark": {"type": "text", "text": "12 MeV C³⁺ Auger KLL W=1521eV, F=4, w=380.25eV V", "fontSize": 15.7, "align": "right", "baseline": "alphabetic", "color": "black"}, "encoding": {"x": {"datum": 1528.1}, "y": {"datum": 1725}}},
 {"mark": {"type": "text", "text": "GC", "fontSize": 9.5, "align": "left", "baseline": "alphabetic", "color": "black"}, "encoding": {"x": {"datum": 1528.2}, "y": {"datum": 1708}}},
 {"mark": {"type": "text", "text": "bias=-20V", "fontSize": 15.7, "align": "left", "baseline": "alphabetic", "color": "black"}, "encoding": {"x": {"datum": 1530.5}, "y": {"datum": 1725}}}
]},
{"data": {"name": "gcout"}, "mark": {"type": "point", "opacity": 0},
 "encoding": {"x": {"field": "E", "type": "quantitative", "axis": {"orient": "bottom", "values": [1471,1472,1473,1474,1475,1476,1477,1478,1479,1481,1482,1483,1484,1485,1486,1487,1488,1489,1491,1492,1493,1494,1495,1496,1497,1498,1499,1501,1502,1503,1504,1505,1506,1507,1508,1509,1511,1512,1513,1514,1515,1516,1517,1518,1519,1521,1522,1523,1524,1525,1526,1527,1528,1529,1531,1532,1533,1534,1535,1536,1537,1538,1539,1541,1542,1543], "labels": false, "tickSize": 3, "domain": false, "title": null}},
  "y": {"field": "c", "type": "quantitative", "axis": {"orient": "left", "values": [100,300,500,700,900,1100,1300,1500,1700], "labels": false, "tickSize": 3, "domain": false, "title": null}}}}
],
"resolve": {"axis": {"x": "independent", "y": "independent"}}
}
